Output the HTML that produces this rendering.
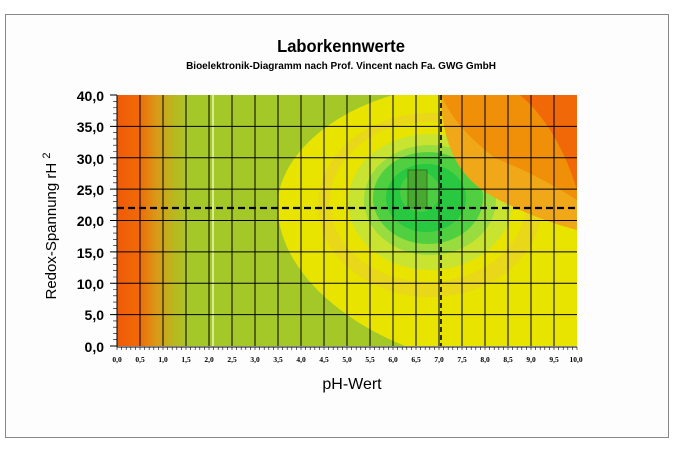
<!DOCTYPE html>
<html><head><meta charset="utf-8"><style>
body{margin:0;background:#fff;width:682px;height:445px;overflow:hidden;font-family:"Liberation Sans",Arial,sans-serif}
</style></head><body>
<svg width="682" height="445" xmlns="http://www.w3.org/2000/svg" font-family="Liberation Sans, Arial, sans-serif">
<defs>
<linearGradient id="lg" x1="0" x2="1" y1="0" y2="0">
<stop offset="0" stop-color="#f05a08"/><stop offset="0.3" stop-color="#f06a08"/>
<stop offset="0.55" stop-color="#d89a18"/><stop offset="0.8" stop-color="#b8b820"/><stop offset="1" stop-color="#a8c828"/>
</linearGradient>
<clipPath id="pc"><rect x="117" y="95" width="460" height="251"/></clipPath>
</defs>
<rect x="5.5" y="14.5" width="663" height="423" fill="#fdfdfd" stroke="#888" stroke-width="1"/>
<text x="341" y="52" text-anchor="middle" font-size="18" font-weight="bold" transform="translate(341,0) scale(0.92,1) translate(-341,0)">Laborkennwerte</text>
<text x="341" y="69" text-anchor="middle" font-size="10" font-weight="bold">Bioelektronik-Diagramm nach Prof. Vincent nach Fa. GWG GmbH</text>
<g clip-path="url(#pc)">
<rect x="117" y="95" width="460" height="251" fill="#a4c828"/>
<rect x="117" y="95" width="72" height="251" fill="url(#lg)"/>
<rect x="212" y="95" width="2" height="251" fill="#d8ec90"/>
<path d="M393,95 C315,118 272,170 278,215 C285,275 345,322 405,346 L577,346 L577,95 Z" fill="#e8e400"/>
<ellipse cx="430" cy="205" rx="112" ry="92" fill="#ecc838" opacity="0.45"/>
<ellipse cx="428" cy="202" rx="98" ry="80" fill="#e8e400"/>
<ellipse cx="430" cy="202" rx="82" ry="68" fill="#c8e430"/>
<ellipse cx="430" cy="200" rx="66" ry="55" fill="#98dc40"/>
<ellipse cx="428" cy="198" rx="55" ry="46" fill="#50d040"/>
<ellipse cx="426" cy="198" rx="40" ry="34" fill="#28c840"/>
<ellipse cx="420" cy="192" rx="20" ry="20" fill="#70d040" opacity="0.5"/>
<path d="M441,95 L577,95 L577,230 C545,222 505,205 482,190 C455,170 442,140 441,95 Z" fill="#f0a818"/>
<path d="M441,95 L577,95 L577,200 C545,180 520,168 495,158 C465,135 450,115 441,95 Z" fill="#f09008"/>
<path d="M520,95 L577,95 L577,190 C568,160 550,120 520,95 Z" fill="#f06808"/>
<rect x="408" y="170" width="19" height="38" fill="#48a830" stroke="#307820" stroke-width="1"/>
<g stroke="#000" stroke-width="1">
<path d="M140,95V346M163,95V346M186,95V346M209,95V346M232,95V346M255,95V346M278,95V346M301,95V346M324,95V346M347,95V346M370,95V346M393,95V346M416,95V346M439,95V346M462,95V346M485,95V346M508,95V346M531,95V346M554,95V346"/>
<path d="M117,126.4H577M117,157.8H577M117,189.1H577M117,220.5H577M117,251.9H577M117,283.3H577M117,314.6H577"/>
</g>
<path d="M117,208H577" stroke="#000" stroke-width="2.2" stroke-dasharray="7,4"/>
<path d="M441,95V346" stroke="#000" stroke-width="1.6" stroke-dasharray="5,3"/>
</g>
<g stroke="#000" stroke-width="1">
<path d="M117,95V347M117,347H577"/>
<path d="M110,95H117M110,126.4H117M110,157.8H117M110,189.1H117M110,220.5H117M110,251.9H117M110,283.3H117M110,314.6H117M110,346H117"/>
</g>
<g id="ymin" stroke="#000" stroke-width="0.6"></g>
<g id="xmin" stroke="#000" stroke-width="0.6"></g>
<g font-size="14" font-weight="bold" text-anchor="end">
<text x="104" y="101">40,0</text><text x="104" y="132">35,0</text><text x="104" y="164">30,0</text><text x="104" y="195">25,0</text><text x="104" y="226">20,0</text><text x="104" y="258">15,0</text><text x="104" y="289">10,0</text><text x="104" y="320">5,0</text><text x="104" y="352">0,0</text>
</g>
<g font-size="7.5" font-weight="bold" text-anchor="middle" font-family="Liberation Serif, serif">
<text x="117" y="362">0,0</text><text x="140" y="362">0,5</text><text x="163" y="362">1,0</text><text x="186" y="362">1,5</text><text x="209" y="362">2,0</text><text x="232" y="362">2,5</text><text x="255" y="362">3,0</text><text x="278" y="362">3,5</text><text x="301" y="362">4,0</text><text x="324" y="362">4,5</text><text x="347" y="362">5,0</text><text x="370" y="362">5,5</text><text x="393" y="362">6,0</text><text x="416" y="362">6,5</text><text x="439" y="362">7,0</text><text x="462" y="362">7,5</text><text x="485" y="362">8,0</text><text x="508" y="362">8,5</text><text x="531" y="362">9,0</text><text x="554" y="362">9,5</text><text x="576" y="362">10,0</text>
</g>
<text x="352" y="389" text-anchor="middle" font-size="16">pH-Wert</text>
<text transform="translate(56,226) rotate(-90)" text-anchor="middle" font-size="15">Redox-Spannung rH <tspan font-size="11" dy="-6">2</tspan></text>
<script>
var ns="http://www.w3.org/2000/svg",g=document.getElementById("ymin"),d="";
for(var i=0;i<=40;i++){var y=346-i*6.275;d+="M113,"+y.toFixed(1)+"H117";}
var p=document.createElementNS(ns,"path");p.setAttribute("d",d);g.appendChild(p);
g=document.getElementById("xmin");d="";
for(var i=0;i<=100;i++){var x=117+i*4.6;d+="M"+x.toFixed(1)+",347V350";}
p=document.createElementNS(ns,"path");p.setAttribute("d",d);g.appendChild(p);
</script>
</svg>
</body></html>
